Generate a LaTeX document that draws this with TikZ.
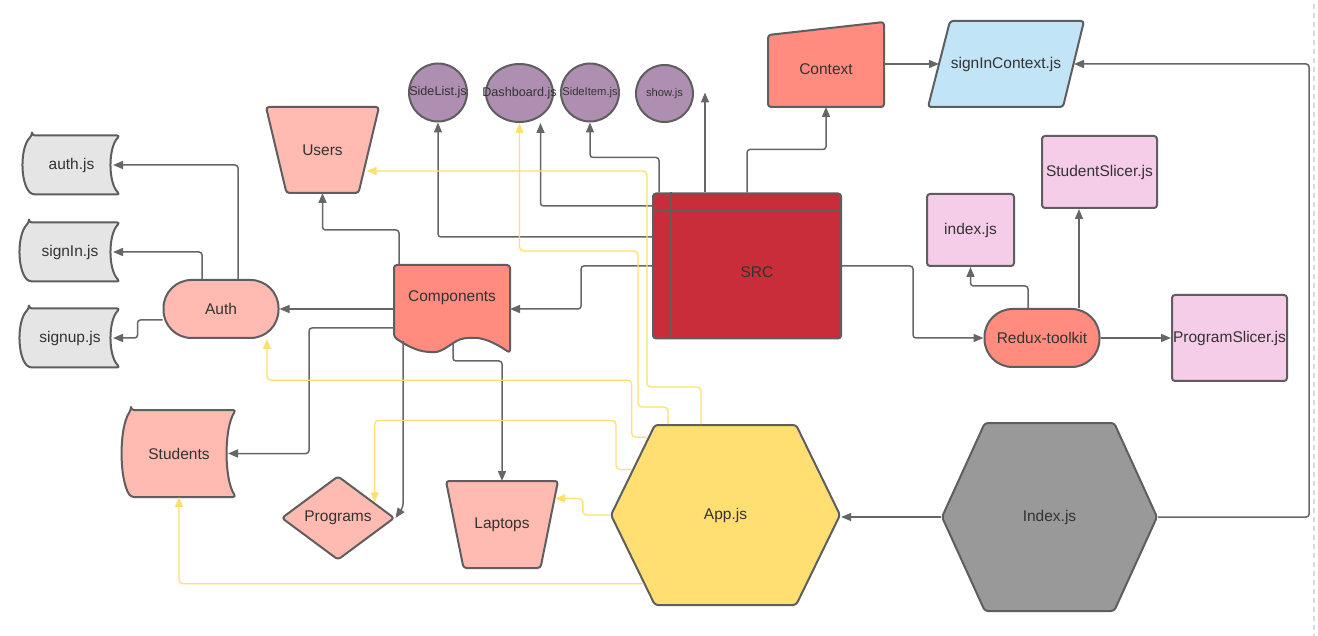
\documentclass[tikz,border=0pt]{standalone}
\usepackage{fontspec}
\setmainfont{Liberation Sans}
\usetikzlibrary{arrows.meta,shapes.geometric,shapes.symbols,backgrounds,calc}
\definecolor{edgegray}{HTML}{666666}
\definecolor{outline}{HTML}{5E5E5E}
\definecolor{ink}{HTML}{333333}
\definecolor{pagegray}{HTML}{DADADA}
\definecolor{appyellow}{HTML}{FFDF71}
\definecolor{plum}{HTML}{AF8FB1}
\definecolor{coral}{HTML}{FF8C7F}
\definecolor{blush}{HTML}{FFBBB1}
\definecolor{crimson}{HTML}{C92D39}
\definecolor{silver}{HTML}{E5E5E5}
\definecolor{candy}{HTML}{F5CDE8}
\definecolor{sky}{HTML}{C1E4F7}
\definecolor{stone}{HTML}{999999}
\newcommand\jsname[1]{\makebox[0pt]{#1}}
% stored data outline round an empty node
\newcommand\storedshape[2]{%
  \draw[shapeline, fill=#2] ([xshift=9pt]#1.north west) -- (#1.north east)
    .. controls ($(#1.north east)!.4!(#1.east)+(-12,0)$) and ($(#1.south east)!.4!(#1.east)+(-12,0)$) .. (#1.south east)
    -- ([xshift=9pt]#1.south west)
    .. controls ($(#1.south west)!.4!(#1.west)+(-3,0)$) and ($(#1.north west)!.4!(#1.west)+(-3,0)$) .. cycle;}
\begin{document}
\begin{tikzpicture}[x=1pt, y=-1pt, >={Triangle[length=10pt,width=8pt]},
  font=\fontsize{15.5}{18}\selectfont, text=ink,
  shapeline/.style={draw=outline, line width=2pt, line join=round, rounded corners=3pt},
  wire/.style={draw=edgegray, line width=1.5pt, rounded corners=3pt, ->},
  yline/.style={draw=appyellow, line width=1.3pt, rounded corners=4pt, ->},
  bare/.style={inner sep=0pt, outer sep=0pt},
  jsball/.style={shapeline, circle, fill=plum, minimum size=58pt, inner sep=0pt, font=\fontsize{12.6}{14}\selectfont},
  slice/.style={shapeline, rectangle, fill=candy, inner sep=0pt},
  pill/.style={shapeline, rectangle, rounded corners=28pt, minimum width=115pt, minimum height=58pt, inner sep=0pt},
  hexa/.style={shapeline, signal, signal to=east and west, inner sep=0pt}]
\useasboundingbox (0,0) rectangle (1318,636);

% top row of js files
\node[jsball] (sidelist) at (438,92.5) {\jsname{SideList.js}};
\node[jsball, ellipse, minimum width=67pt, minimum height=58pt] (dash) at (519.5,93) {\jsname{Dashboard.js}};
\node[jsball, font=\fontsize{11.2}{13}\selectfont] (sideitem) at (590,92.5) {\jsname{SideItem.js}};
\node[jsball, minimum size=57pt, font=\fontsize{11.2}{13}\selectfont] (showjs) at (664.5,93.5) {\jsname{show.js}};
\node[bare, minimum width=116pt, minimum height=76pt] (ctx) at (826,69) {Context};
\node[bare, minimum width=156pt, minimum height=86pt] (signin) at (1006,64) {signInContext.js};

% left side
\node[bare, minimum width=113pt, minimum height=86pt] (users) at (322.5,150) {Users};
\node[bare, minimum width=97pt, minimum height=59pt] (authjs) at (71.5,165) {auth.js};
\node[bare, minimum width=100pt, minimum height=59pt] (signinjs) at (70,252) {signIn.js};
\node[bare, minimum width=100pt, minimum height=59pt] (signupjs) at (70,338) {signup.js};
\node[pill, fill=blush] (auth) at (221,309) {Auth};
\node[bare, minimum width=116pt, minimum height=66pt] (comp) at (452,298) {Components};
\node[bare, minimum width=114pt, minimum height=87pt] (students) at (179,453.5) {Students};
\node[shapeline, diamond, fill=blush, minimum width=113pt, minimum height=84pt, inner sep=0pt] (programs) at (338,518) {Programs};
\node[bare, minimum width=112pt, minimum height=87pt] (laptops) at (502,524.5) {Laptops};

% middle and right
\node[shapeline, rectangle, fill=crimson, minimum width=188pt, minimum height=145pt,
  label={[xshift=10pt, yshift=-6pt]center:SRC}] (src) at (747,266) {};
\node[slice, minimum width=87pt, minimum height=72pt] (indexjs) at (970.5,230) {index.js};
\node[slice, minimum width=115pt, minimum height=72pt] (studslice) at (1099.5,172) {StudentSlicer.js};
\node[slice, minimum width=115pt, minimum height=86pt] (progslice) at (1229.5,338) {ProgramSlicer.js};
\node[pill, fill=coral, minimum width=115pt] (redux) at (1042,338) {Redux-toolkit};
\node[hexa, fill=appyellow, minimum width=229pt, minimum height=180pt, signal pointer angle=128] (app) at (725.5,515) {App.js};
\node[hexa, fill=stone, minimum width=215pt, minimum height=188pt, signal pointer angle=131] (index) at (1049.5,517) {Index.js};

\begin{scope}[on background layer]
  \fill[white] (0,0) rectangle (1318,636);
  \draw[shapeline, fill=coral, shift={(ctx.center)}] (-58,-34) -- (58,-47) -- (58,38) -- (-58,38) -- cycle;
  \draw[shapeline, fill=sky, shift={(signin.center)}] (-56,-43) -- (78,-43) -- (57,43) -- (-78,43) -- cycle;
  \draw[shapeline, fill=blush, shift={(users.center)}] (-56.5,-43) -- (56.5,-43) -- (36,43) -- (-36,43) -- cycle;
  \draw[shapeline, fill=blush, shift={(laptops.center)}] (-56,-43.5) -- (56,-43.5) -- (38.5,43.5) -- (-38.5,43.5) -- cycle;
  \draw[shapeline, fill=coral, shift={(comp.center)}] (-58,-33) -- (58,-33) -- (58,55)
    .. controls (42,44) and (30,39) .. (16,40)
    .. controls (2,41) and (-8,55) .. (-22,54)
    .. controls (-36,53) and (-48,46) .. (-58,39) -- cycle;
  \storedshape{authjs}{silver}
  \storedshape{signinjs}{silver}
  \storedshape{signupjs}{silver}
  \storedshape{students}{blush}
\end{scope}
\draw[shapeline] ([xshift=19pt]src.north west) -- ([xshift=19pt]src.south west);
\draw[shapeline] ([yshift=-19pt]src.north west) -- ([yshift=-19pt]src.north east);

% page edge
\draw[draw=pagegray, line width=2pt, dash pattern=on 5pt off 4pt] (1314,4) -- (1314,636);

% SRC
\draw[wire] ([yshift=29pt]src.west) -| (sidelist.south);
\draw[wire] ([yshift=60pt]src.west) -| ([xshift=21pt]dash.south);
\draw[wire] ([xshift=-88pt]src.north) -- ++(0,-35) -| (sideitem.south);
\draw[wire] ([xshift=-42pt]src.north) -- ++(0,-100);
\draw[wire] (src.north) -- ++(0,-43) -| (ctx.south);
\draw[wire] (src.west) -- ++(-71,0) |- (comp.east |- auth.east);
\draw[wire] (src.east) -- ++(71,0) |- (redux.west);
\draw[wire] (ctx.east |- signin.west) -- ([xshift=11pt]signin.west);
\draw[wire] (index.east) -- ++(151,0) |- ([xshift=-10pt]signin.east);
\draw[wire] (index.west) -- (index.west -| app.east);

% redux
\draw[wire] ([xshift=-14pt]redux.north) -- ++(0,-22) -| (indexjs.south);
\draw[wire] ([xshift=37pt]redux.north) -- ([xshift=-20.5pt]studslice.south);
\draw[wire] (redux.east) -- (progslice.west);

% auth
\draw[wire] ([xshift=17pt]auth.north) |- ([xshift=-7pt]authjs.east);
\draw[wire] ([xshift=-19pt]auth.north) |- ([xshift=-7pt]signinjs.east);
\draw[wire] ([yshift=-11pt]auth.west) -- ++(-25,0) |- ([xshift=-7pt]signupjs.east);

% components
\draw[wire] (comp.west |- auth.east) -- (auth.east);
\draw[wire] ([xshift=-53pt]comp.north) -- ++(0,-35) -| (users.south);
\draw[wire] ([yshift=-30pt]comp.west) -- ++(-85,0) |- ([xshift=-8pt]students.east);
\draw[wire] ([shift={(-49,43)}]comp.center) -- ++(0,166) -- (programs.east);
\draw[wire] ([shift={(1,46)}]comp.center) -- ++(0,17) -| (laptops.north);

% App.js
\draw[yline] ([xshift=-24.5pt]app.north) -- ++(0,-37) -- ++(-54,0) |- ([shift={(44,21)}]users.center);
\draw[yline] ([xshift=-57.5pt]app.north) -- ++(0,-17) -- ++(-30,0) -- ++(0,-156) -| (dash.south);
\draw[yline] (app.135) -- ++(-16,0) -- ++(0,-57) -| ([xshift=46pt]auth.south);
\draw[yline] (app.154) -- ++(-16,0) -- ++(0,-49) -| (programs.23);
\draw[yline] (app.west) -- ++(-27,0) |- ([shift={(53,-26)}]laptops.center);
\draw[yline] (app.220) -| (students.south);
\end{tikzpicture}
\end{document}
